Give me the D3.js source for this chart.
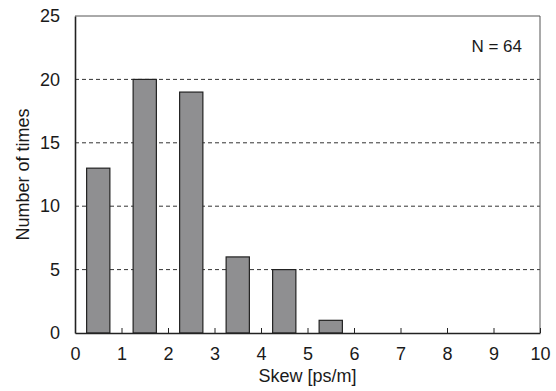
<html>
<style>
  body { margin: 0; background: #fff; }
  svg text { font-family: Arial, "Liberation Sans", Helvetica, sans-serif; fill: #1a1a1a; }
</style>
<script src="https://d3js.org/d3.v7.min.js"></script>
<body>
<svg id="chart" width="556" height="391"></svg>
</body>
<script>
  // histogram of skew, bins of 1 ps/m
  const binStarts = [0, 1, 2, 3, 4, 5, 6, 7, 8, 9]
  const counts = [13, 20, 19, 6, 5, 1, 0, 0, 0, 0]
  const xTicks = [0, 1, 2, 3, 4, 5, 6, 7, 8, 9, 10]
  const yTicks = [0, 5, 10, 15, 20, 25]
  const gridValues = [5, 10, 15, 20]

  const width = 556, height = 391
  const margin = {left: 75, right: 16, top: 16, bottom: 58}
  const svg = d3.select('#chart')

  let x = d3.scaleLinear().domain([0, 10]).range([margin.left, width - margin.right])
  let y = d3.scaleLinear().domain([0, 25]).range([height - margin.bottom, margin.top])

  // dashed grid
  svg.append('g').selectAll('line').data(gridValues)
    .enter().append('line')
    .attr('x1', x(0)).attr('x2', x(10))
    .attr('y1', d => y(d)).attr('y2', d => y(d))
    .attr('stroke', '#333')
    .attr('stroke-width', 1)
    .attr('stroke-dasharray', '4,3')

  // bars
  svg.append('g').selectAll('rect').data(binStarts.map((b, i) => ({b, c: counts[i]})).filter(d => d.c > 0))
    .enter().append('rect')
    .attr('x', d => x(d.b + 0.25))
    .attr('width', d => x(d.b + 0.75) - x(d.b + 0.25))
    .attr('y', d => y(d.c))
    .attr('height', d => y(0) - y(d.c))
    .attr('fill', '#8f8f91')
    .attr('stroke', '#222')
    .attr('stroke-width', 1.2)

  // frame: top and right lighter
  svg.append('line')
    .attr('x1', x(0)).attr('x2', x(10)).attr('y1', y(25)).attr('y2', y(25))
    .attr('stroke', '#555').attr('stroke-width', 1)
  svg.append('line')
    .attr('x1', x(10)).attr('x2', x(10)).attr('y1', y(25)).attr('y2', y(0))
    .attr('stroke', '#555').attr('stroke-width', 1)

  // x axis, ticks point inward
  const xAxis = d3.axisBottom(x).tickValues(xTicks).tickSizeInner(-5).tickSizeOuter(0).tickPadding(14)
  const gx = svg.append('g').attr('transform', `translate(0,${y(0)})`).call(xAxis)
  gx.select('.domain').attr('stroke', '#222').attr('stroke-width', 1.6)
  gx.selectAll('.tick line').attr('stroke', '#222').attr('stroke-width', 1)
  gx.selectAll('.tick text').attr('font-size', 18).attr('font-family', null).attr('fill', '#1a1a1a')

  const yAxis = d3.axisLeft(y).tickValues(yTicks).tickSize(0).tickPadding(15)
  const gy = svg.append('g').attr('transform', `translate(${x(0)},0)`).call(yAxis)
  gy.select('.domain').attr('stroke', '#222').attr('stroke-width', 1.6)
  gy.selectAll('.tick text').attr('font-size', 18).attr('font-family', null).attr('fill', '#1a1a1a')

  // titles
  svg.append('text')
    .attr('x', (x(0) + x(10)) / 2)
    .attr('y', 382)
    .attr('text-anchor', 'middle')
    .attr('font-size', 18)
    .text('Skew [ps/m]')

  svg.append('text')
    .attr('transform', `translate(29,${(y(0) + y(25)) / 2}) rotate(-90)`)
    .attr('text-anchor', 'middle')
    .attr('font-size', 18)
    .text('Number of times')

  svg.append('text')
    .attr('x', 522)
    .attr('y', 52)
    .attr('text-anchor', 'end')
    .attr('font-size', 17)
    .text('N = 64')
</script>
</html>
